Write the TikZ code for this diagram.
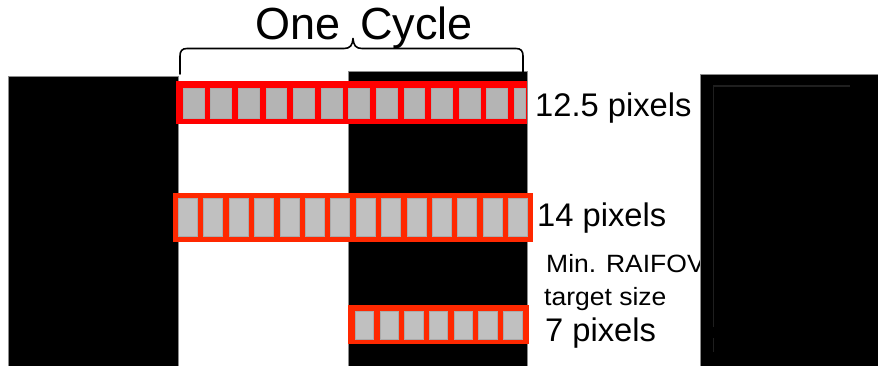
\documentclass[tikz,border=0pt]{standalone}
\usepackage{fontspec}
\setmainfont{Liberation Sans}
\definecolor{redA}{HTML}{FF0000}
\definecolor{redB}{HTML}{FF2800}
\definecolor{grayA}{HTML}{B4B4B4}
\definecolor{grayB}{HTML}{C0C0C0}
\definecolor{edgeA}{HTML}{ABABAB}
\tikzset{
  barbox/.style={fill=black, draw=black!45, line width=0.8pt},
  cellA/.style={fill=grayA, draw=edgeA, line width=0.4pt},
  cellB/.style={fill=grayB, draw=edgeA, line width=0.4pt},
  lbl/.style={inner sep=0pt, anchor=base west, text=black},
  bigtext/.style={lbl, font=\fontsize{32.7}{39}\selectfont},
  smalltext/.style={lbl, font=\fontsize{25}{30}\selectfont},
  titletext/.style={lbl, font=\fontsize{45}{52}\selectfont},
  bracepath/.style={line width=1.6pt, line join=round, line cap=round}
}
\begin{document}
\begin{tikzpicture}[x=1pt,y=-1pt]
\useasboundingbox (0,0) rectangle (878,366);
\fill[white] (0,0) rectangle (878,366);
% bars
\draw[barbox] (8,76.5) rectangle (178,367);
\draw[barbox] (348.5,71.5) rectangle (527.5,367);
% labels (right bar covers the end of the V)
\node[titletext] (one) at (255.5,39.5) {One};
\node[titletext] (cycle) at (360,39.5) {Cycle};
\node[bigtext] (l125) at (535,116.7) {12.5 pixels};
\node[bigtext] (l14) at (537,226.7) {14 pixels};
\node[smalltext] (lmin) at (546,272) {\scalebox{1.06}[1]{Min. RAIFOV}};
\node[smalltext] (ltarget) at (544,305.5) {\scalebox{1.06}[1]{target size}};
\node[bigtext] (l7) at (545,341.7) {7 pixels};
\draw[barbox] (700.5,74.5) rectangle (879,367);
\draw[black!88, line width=1.3pt] (713.3,327) -- (713.3,86) -- (850,86);
\draw[black!88, line width=1.3pt] (713.3,338) -- (713.3,352);
% brace
\draw[bracepath] (180,74) -- (180,56) .. controls (180,51) and (182,48.5) .. (187,48.5)
  -- (344,48.5) .. controls (350,48.5) and (352.5,45.5) .. (353,38.5)
  .. controls (353.5,45.5) and (356,48.5) .. (362,48.5)
  -- (516,48.5) .. controls (521,48.5) and (523,51) .. (523,56) -- (523,74);
% row 1 : 12.5 pixels
\fill[redA] (176,81.5) rectangle (527,124.5);
\foreach \k in {0,...,11}{
  \draw[cellA] ({183+27.6*\k},88.3) rectangle ({203.8+27.6*\k},118.3);
}
\draw[cellA] (514.2,88.3) rectangle (525,118.3);
% row 2 : 14 pixels
\fill[redB] (172.7,192.7) rectangle (532.7,241.7);
\foreach \k in {0,...,13}{
  \draw[cellB] ({178.3+25.38*\k},198.3) rectangle ({197.3+25.38*\k},236);
}
% row 3 : 7 pixels
\fill[redB] (348.3,305) rectangle (529,344);
\foreach \k in {0,...,6}{
  \draw[cellB] ({355+24.72*\k},310.7) rectangle ({373.5+24.72*\k},339);
}
\end{tikzpicture}
\end{document}
